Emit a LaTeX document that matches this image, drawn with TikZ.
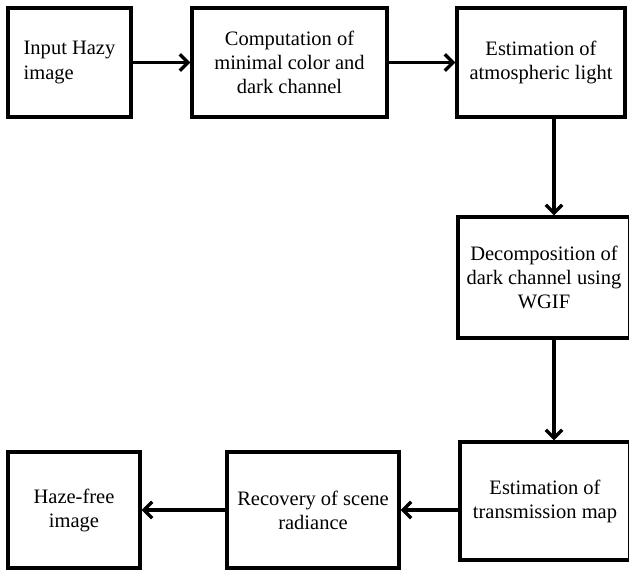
\documentclass[tikz,border=0pt]{standalone}
\usepackage{fontspec}
\setmainfont{Liberation Serif}
\usetikzlibrary{arrows.meta}

\begin{document}
\begin{tikzpicture}[>={Straight Barb[length=7pt,width=14pt]}, x=0.03cm, y=-0.03cm]

    % 定义公共变量
    \def\px{0.03cm}      % 一个像素的长度
    \def\vx{13}          % 竖直箭头相对上方方框中心的偏移

    \tikzset{
      blockbox/.style={draw, line width=2.6pt, inner sep=2pt, align=center,
        font=\fontsize{17.5}{20.5}\selectfont},
      flow/.style={->, line width=2.9pt}
    }

    \useasboundingbox (0,0) rectangle (629,571);

    % 第一行:3个方框
    \node[blockbox, align=left, minimum width=123*\px, minimum height=109*\px] (input) at (69.5,62.5) {Input Hazy\\image};
    \node[blockbox, minimum width=195*\px, minimum height=109*\px] (dark) at (289.5,62.5) {Computation of\\minimal color and\\dark channel};
    \node[blockbox, minimum width=168*\px, minimum height=109*\px] (light) at (541,62.5) {Estimation of\\atmospheric light};

    % 右侧一列
    \node[blockbox, minimum width=172*\px, minimum height=121*\px] (wgif) at (544,277.5) {Decomposition of\\dark channel using\\WGIF};
    \node[blockbox, minimum width=170*\px, minimum height=118*\px] (trans) at (545,501) {Estimation of\\transmission map};

    % 最后一行
    \node[blockbox, minimum width=172*\px, minimum height=116*\px] (recover) at (313,510) {Recovery of scene\\radiance};
    \node[blockbox, minimum width=132*\px, minimum height=116*\px] (output) at (74,510) {Haze-free\\image};

    % 连接各个方框
    \draw[flow] (input) -- (dark);
    \draw[flow] (dark) -- (light);
    \draw[flow] ([xshift=\vx*\px]light.south) -- ([xshift=\vx*\px]light.south |- wgif.north);
    \draw[flow] ([xshift=\vx*\px]light.south |- wgif.south) -- ([xshift=\vx*\px]light.south |- trans.north);
    \draw[flow] (trans.west |- recover.east) -- (recover.east);
    \draw[flow] (recover) -- (output);

\end{tikzpicture}
\end{document}
